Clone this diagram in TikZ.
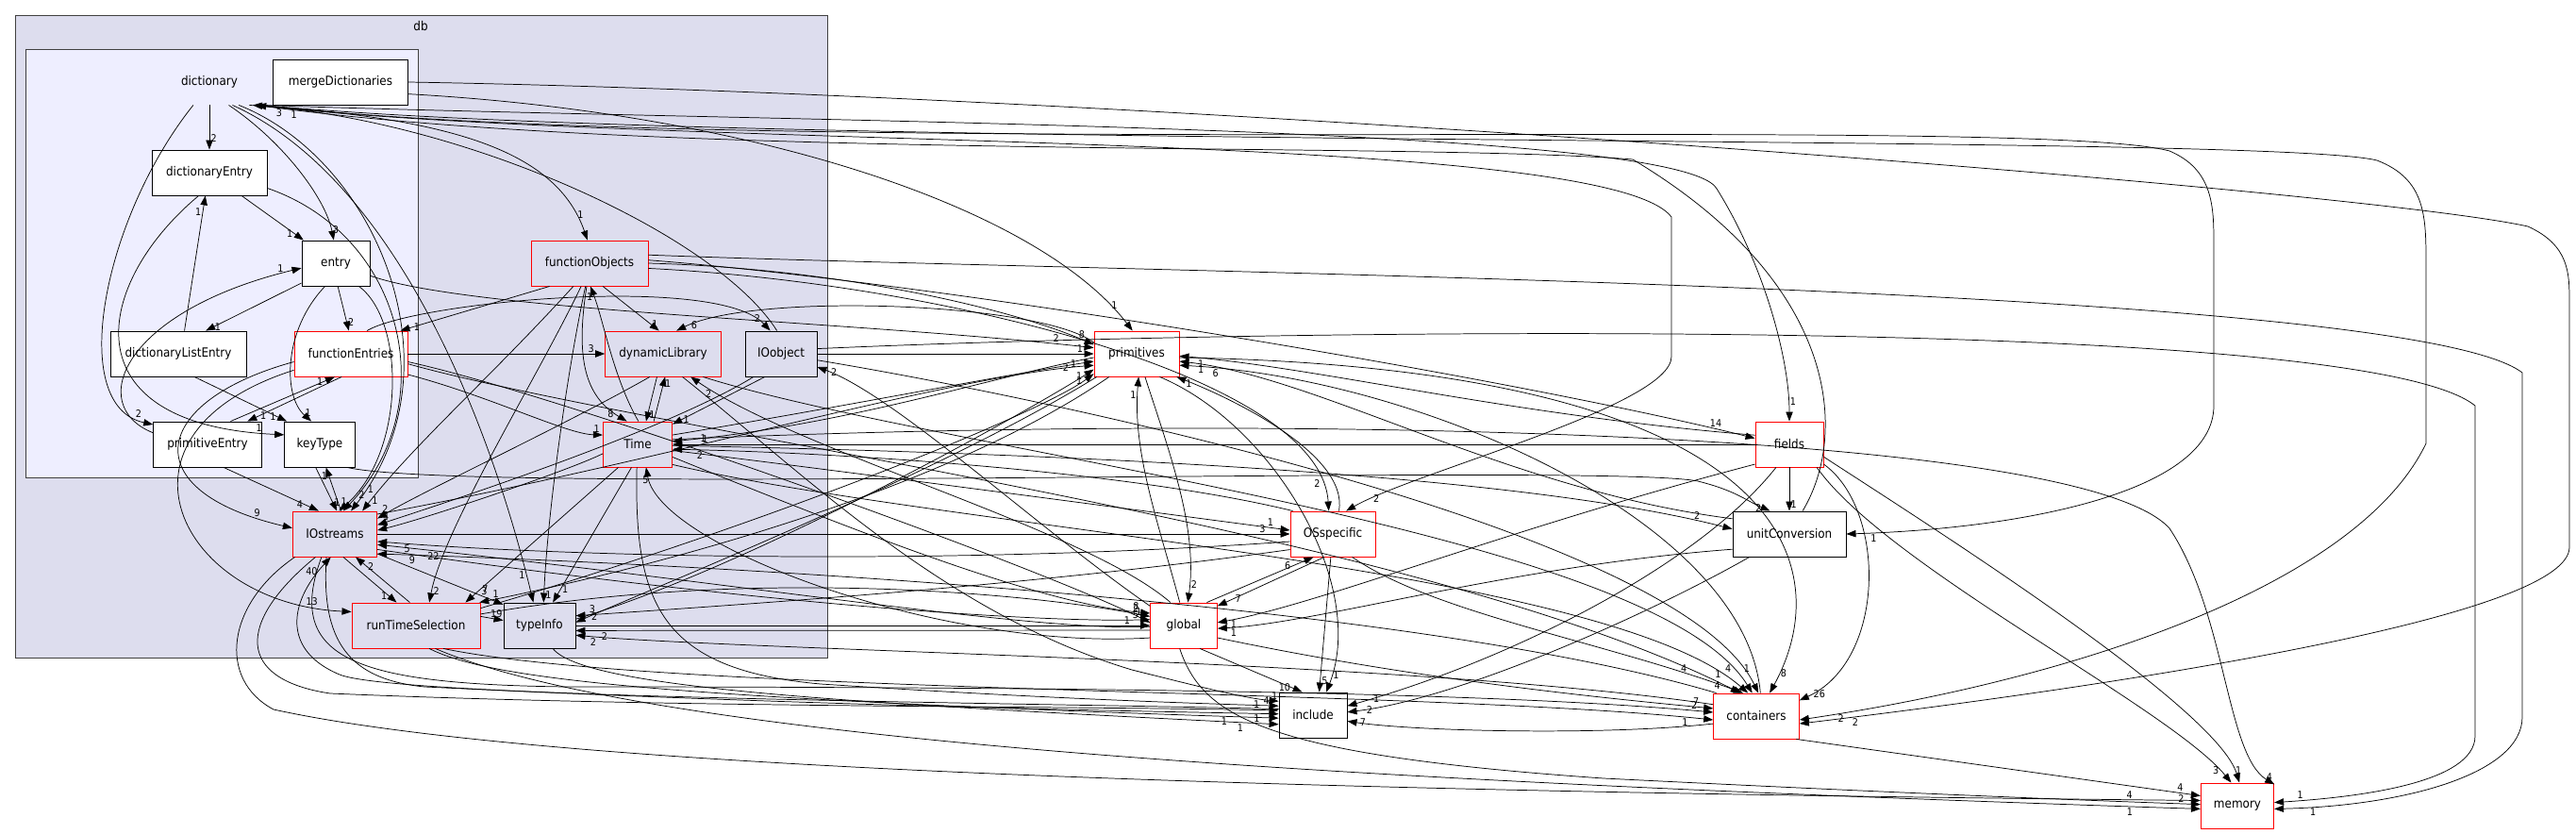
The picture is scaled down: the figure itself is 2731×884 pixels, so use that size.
\documentclass[tikz,border=0pt]{standalone}
\usepackage{fontspec}
\setmainfont{DejaVu Sans}[FakeStretch=0.9]
\usetikzlibrary{arrows.meta}
\definecolor{dbfill}{HTML}{DDDDEE}
\definecolor{dictfill}{HTML}{EEEEFF}
\definecolor{frame}{HTML}{404040}
\begin{document}
\begin{tikzpicture}[x=0.75pt,y=-0.75pt]
\tikzstyle{dirnode} = [draw=black, fill=white, line width=0.7pt, minimum height=36pt, inner sep=1pt, font=\fontsize{10}{12}\selectfont]
\tikzstyle{subdirs} = [dirnode, draw=red]
\tikzstyle{dep} = [draw=black, line width=0.55pt, -{Triangle[length=7.5pt,width=5.5pt]}]
\tikzstyle{lbl} = [font=\fontsize{8}{8}\selectfont, inner sep=1pt]
\useasboundingbox (0,0) rectangle (2731,884);
\fill[white] (0,0) rectangle (2731,884);
\draw[frame, fill=dbfill, line width=0.7pt] (16,16) rectangle (877,697);
\node[font=\fontsize{10}{12}\selectfont] (dblabel) at (446,28) {db};
\draw[frame, fill=dictfill, line width=0.7pt] (27,52) rectangle (443,506);
\node[dirnode, draw=none, fill=none, minimum width=91.5pt] (dictionary) at (222,87) {dictionary};
\node[dirnode, minimum width=107pt] (mergeDict) at (361,87) {mergeDictionaries};
\node[dirnode, minimum width=91.5pt] (dictEntry) at (222,183) {dictionaryEntry};
\node[dirnode, minimum width=54pt] (entry) at (356,279) {entry};
\node[dirnode, minimum width=108pt] (dictListEntry) at (189,375) {dictionaryListEntry};
\node[subdirs, minimum width=90pt] (funcEntries) at (372,375) {functionEntries};
\node[dirnode, minimum width=86pt] (primEntry) at (220,471) {primitiveEntry};
\node[dirnode, minimum width=56pt] (keyType) at (339,471) {keyType};
\node[subdirs, fill=dbfill, minimum width=93pt] (funcObjects) at (625,279) {functionObjects};
\node[subdirs, fill=dbfill, minimum width=92pt] (dynLib) at (703,375) {dynamicLibrary};
\node[dirnode, fill=dbfill, minimum width=57pt] (IOobject) at (828,375) {IOobject};
\node[subdirs, fill=dbfill, minimum width=55pt] (Time) at (676,471) {Time};
\node[subdirs, fill=dbfill, minimum width=67pt] (IOstreams) at (355,566) {IOstreams};
\node[subdirs, fill=dbfill, minimum width=102pt] (rtSelection) at (441,663) {runTimeSelection};
\node[dirnode, fill=dbfill, minimum width=57pt] (typeInfo) at (572,663) {typeInfo};
\node[subdirs, minimum width=67.5pt] (primitives) at (1205,375) {primitives};
\node[subdirs, minimum width=53pt] (global) at (1255,663) {global};
\node[subdirs, minimum width=67.5pt] (OSspecific) at (1413,566) {OSspecific};
\node[dirnode, minimum width=54pt] (include) at (1392,758) {include};
\node[subdirs, minimum width=54pt] (fields) at (1897,471) {fields};
\node[dirnode, minimum width=90pt] (unitConv) at (1897,566) {unitConversion};
\node[subdirs, minimum width=68pt] (containers) at (1862,759) {containers};
\node[subdirs, minimum width=58pt] (memory) at (2372,854) {memory};
\draw[dep] (dictionary) -- node[lbl,pos=.75,right]{2} (dictEntry);
\draw[dep] (dictionary.-50) .. controls (300,150) and (345,210) .. node[lbl,pos=.92,right]{3} (entry.95);
\draw[dep] (dictionary.-125) .. controls (110,230) and (70,430) .. node[lbl,pos=.94,above]{2} (primEntry.160);
\draw[dep] (dictEntry) -- node[lbl,pos=.85,left]{1} (entry);
\draw[dep] (dictListEntry.75) -- node[lbl,pos=.88,left]{1} (dictEntry.-100);
\draw[dep] (entry.-150) -- node[lbl,pos=.92,right]{1} (dictListEntry.40);
\draw[dep] (entry.-85) -- node[lbl,pos=.8,right]{2} (funcEntries.95);
\draw[dep] (entry.-115) .. controls (300,350) and (300,420) .. node[lbl,pos=.9,right]{1} (keyType.110);
\draw[dep] (dictEntry.-115) .. controls (100,300) and (70,450) .. node[lbl,pos=.96,above]{1} (keyType.165);
\draw[dep] (dictListEntry.-55) -- node[lbl,pos=.9,left]{1} (keyType.145);
\draw[dep] (primEntry.45) -- node[lbl,pos=.9,left]{1} (funcEntries.-125);
\draw[dep] (funcEntries.-112) -- node[lbl,pos=.88,right]{1} (primEntry.30);
\draw[dep] (primEntry.168) .. controls (90,430) and (130,330) .. node[lbl,pos=.96,above]{1} (entry.188);
\draw[dep] (dictEntry.-15) .. controls (430,250) and (470,430) .. node[lbl,pos=.95,right]{2} (IOstreams.70);
\draw[dep] (dictionary.-38) .. controls (400,170) and (490,390) .. node[lbl,pos=.95,right]{1} (IOstreams.55);
\draw[dep] (entry.-45) .. controls (430,340) and (430,480) .. node[lbl,pos=.95,left]{1} (IOstreams.80);
\draw[dep] (dictionary.-45) .. controls (420,190) and (520,450) .. node[lbl,pos=.95,left]{1} (typeInfo.105);
\draw[dep] (dictionary.-30) .. controls (480,125) and (590,160) .. node[lbl,pos=.9,right]{1} (funcObjects.95);
\draw[dep] (IOobject.100) .. controls (760,250) and (500,130) .. node[lbl,pos=.96,below]{3} (dictionary.-28);
\draw[dep] (funcEntries.188) .. controls (160,425) and (140,520) .. node[lbl,pos=.92,above]{9} (IOstreams.172);
\draw[dep] (funcEntries.196) .. controls (100,460) and (190,640) .. node[lbl,pos=.92,above]{13} (rtSelection.168);
\draw[dep] (primEntry.-55) -- node[lbl,pos=.85,left]{4} (IOstreams.125);
\draw[dep] (keyType.-100) -- node[lbl,pos=.8,right]{1} (IOstreams.85);
\draw[dep] (IOstreams.75) -- node[lbl,pos=.8,left]{1} (keyType.-75);
\draw[dep] (funcObjects.-150) -- node[lbl,pos=.92,right]{1} (funcEntries.25);
\draw[dep] (funcEntries) -- node[lbl,pos=.93,above]{3} (dynLib);
\draw[dep] (funcObjects.-60) -- node[lbl,pos=.85,right]{1} (dynLib.100);
\draw[dep] (funcObjects.-97) .. controls (610,380) and (620,420) .. node[lbl,pos=.9,left]{8} (Time.115);
\draw[dep] (Time.88) .. controls (650,400) and (640,340) .. node[lbl,pos=.9,left]{1} (funcObjects.-88);
\draw[dep] (funcObjects.-100) .. controls (600,400) and (580,550) .. node[lbl,pos=.97,right]{1} (typeInfo.80);
\draw[dep] (funcObjects.-110) .. controls (570,400) and (470,560) .. node[lbl,pos=.95,right]{2} (rtSelection.60);
\draw[dep] (funcObjects.-125) .. controls (520,400) and (440,470) .. node[lbl,pos=.95,right]{1} (IOstreams.40);
\draw[dep] (dynLib.-105) -- node[lbl,pos=.85,right]{1} (Time.70);
\draw[dep] (Time.55) -- node[lbl,pos=.85,right]{1} (dynLib.-85);
\draw[dep] (IOobject.-125) -- node[lbl,pos=.9,right]{1} (Time.30);
\draw[dep] (funcEntries.55) .. controls (440,320) and (760,290) .. node[lbl,pos=.92,right]{2} (IOobject.115);
\draw[dep] (primitives.165) .. controls (1100,320) and (800,310) .. node[lbl,pos=.95,right]{6} (dynLib.60);
\draw[dep] (entry.-20) .. controls (500,330) and (900,340) .. node[lbl,pos=.95,above]{2} (primitives.172);
\draw[dep] (dynLib.-120) .. controls (600,450) and (450,520) .. node[lbl,pos=.95,above]{2} (IOstreams.20);
\draw[dep] (Time.-165) .. controls (600,500) and (450,550) .. node[lbl,pos=.95,above]{6} (IOstreams.5);
\draw[dep] (IOobject.-140) .. controls (700,460) and (450,540) .. node[lbl,pos=.95,above]{4} (IOstreams.12);
\draw[dep] (Time.-130) -- node[lbl,pos=.9,right]{7} (rtSelection.25);
\draw[dep] (Time.-105) -- node[lbl,pos=.9,right]{1} (typeInfo.60);
\draw[dep] (IOstreams.-70) -- node[lbl,pos=.85,left]{1} (rtSelection.130);
\draw[dep] (rtSelection.105) -- node[lbl,pos=.8,right]{2} (IOstreams.-48);
\draw[dep] (IOstreams.-25) -- node[lbl,pos=.85,above]{3} (typeInfo.150);
\draw[dep] (rtSelection.8) -- node[lbl,pos=.7,above]{19} (typeInfo.172);
\draw[dep] (funcEntries.-20) .. controls (520,420) and (600,460) .. node[lbl,pos=.95,above]{1} (Time.165);
\draw[dep] (funcObjects.east) .. controls (900,285) and (1080,330) .. node[lbl,pos=.95,above]{8} (primitives.168);
\draw[dep] (IOobject.east) -- node[lbl,pos=.95,above]{1} (primitives.west);
\draw[dep] (Time.15) .. controls (900,430) and (1050,400) .. node[lbl,pos=.95,left]{1} (primitives.-170);
\draw[dep] (IOstreams.25) .. controls (700,490) and (1000,400) .. node[lbl,pos=.95,left]{2} (primitives.-165);
\draw[dep] (typeInfo.10) .. controls (800,600) and (1100,430) .. node[lbl,pos=.95,left]{1} (primitives.-160);
\draw[dep] (rtSelection.15) .. controls (800,560) and (1100,440) .. node[lbl,pos=.95,left]{1} (primitives.-155);
\draw[dep] (global.100) .. controls (1230,560) and (1200,480) .. node[lbl,pos=.92,left]{1} (primitives.-85);
\draw[dep] (primitives.-70) .. controls (1240,480) and (1270,560) .. node[lbl,pos=.92,right]{2} (global.80);
\draw[dep] (primitives.-175) .. controls (1050,400) and (900,450) .. node[lbl,pos=.95,right]{1} (Time.5);
\draw[dep] (primitives.-150) .. controls (1000,500) and (700,620) .. node[lbl,pos=.95,right]{2} (typeInfo.5);
\draw[dep] (primitives.-140) .. controls (1000,520) and (700,600) .. node[lbl,pos=.97,above]{1} (rtSelection.20);
\draw[dep] (IOstreams) -- node[lbl,pos=.97,above]{3} (OSspecific);
\draw[dep] (Time.-10) .. controls (900,500) and (1200,540) .. node[lbl,pos=.96,above]{1} (OSspecific.175);
\draw[dep] (global.45) -- node[lbl,pos=.8,left]{6} (OSspecific.-130);
\draw[dep] (OSspecific.-110) -- node[lbl,pos=.85,right]{7} (global.30);
\draw[dep] (OSspecific.-95) -- node[lbl,pos=.92,right]{5} (include.75);
\draw[dep] (OSspecific.-50) .. controls (1520,650) and (1700,680) .. node[lbl,pos=.95,left]{4} (containers.120);
\draw[dep] (OSspecific.75) .. controls (1430,480) and (1300,420) .. node[lbl,pos=.9,left]{1} (primitives.-30);
\draw[dep] (OSspecific.-170) .. controls (1000,600) and (600,590) .. node[lbl,pos=.95,below]{5} (IOstreams.-10);
\draw[dep] (OSspecific.150) .. controls (1200,500) and (900,480) .. node[lbl,pos=.95,below]{2} (Time.-8);
\draw[dep] (funcObjects.-5) .. controls (1000,300) and (1400,400) .. node[lbl,pos=.93,left]{2} (OSspecific.100);
\draw[dep] (dictionary.-27) .. controls (700,160) and (1700,135) .. (1772,230) -- (1772,378) .. controls (1772,430) and (1500,500) .. node[lbl,pos=.9,right]{2} (OSspecific.60);
\draw[dep] (IOstreams.-20) .. controls (800,640) and (1100,660) .. node[lbl,pos=.96,above]{5} (global.170);
\draw[dep] (global.-178) .. controls (1100,670) and (800,620) .. node[lbl,pos=.95,below]{22} (IOstreams.-14);
\draw[dep] (Time.-20) .. controls (900,560) and (1100,640) .. node[lbl,pos=.96,above]{8} (global.160);
\draw[dep] (typeInfo.east) -- node[lbl,pos=.96,above]{1} (global.west);
\draw[dep] (global.-172) -- node[lbl,pos=.95,below]{2} (typeInfo.-8);
\draw[dep] (rtSelection.10) .. controls (800,600) and (1100,630) .. node[lbl,pos=.96,above]{2} (global.165);
\draw[dep] (global.-160) .. controls (1000,690) and (700,580) .. node[lbl,pos=.95,left]{5} (Time.-70);
\draw[dep] (global.-55) -- node[lbl,pos=.9,left]{10} (include.115);
\draw[dep] (global.-100) .. controls (1275,760) and (1340,800) .. (1700,825) .. controls (2000,840) and (2200,848) .. node[lbl,pos=.95,above]{2} (memory.178);
\draw[dep] (global.-20) .. controls (1500,720) and (1700,740) .. node[lbl,pos=.95,above]{7} (containers.170);
\draw[dep] (global.120) .. controls (1150,560) and (850,480) .. node[lbl,pos=.95,below]{2} (dynLib.-40);
\draw[dep] (global.150) .. controls (1100,560) and (950,420) .. node[lbl,pos=.95,right]{2} (IOobject.-20);
\draw[dep] (fields.-150) .. controls (1600,560) and (1400,640) .. node[lbl,pos=.95,below]{1} (global.5);
\draw[dep] (unitConv.-165) .. controls (1600,600) and (1400,660) .. node[lbl,pos=.95,below]{1} (global.-5);
\draw[dep] (funcEntries.-8) .. controls (600,420) and (1100,600) .. node[lbl,pos=.97,above]{1} (global.175);
\draw[dep] (IOstreams.-130) .. controls (250,660) and (250,720) .. (350,735) .. controls (700,750) and (1100,748) .. node[lbl,pos=.97,above]{1} (include.172);
\draw[dep] (IOstreams.-110) .. controls (340,680) and (370,720) .. (450,728) .. controls (800,745) and (1100,752) .. node[lbl,pos=.97,below]{1} (include.178);
\draw[dep] (rtSelection.-60) .. controls (520,720) and (700,740) .. node[lbl,pos=.97,below]{1} (include.-175);
\draw[dep] (Time.-92) .. controls (672,640) and (700,710) .. (870,725) .. controls (1100,740) and (1250,745) .. node[lbl,pos=.96,above]{4} (include.165);
\draw[dep] (dynLib.-50) .. controls (850,500) and (1000,650) .. (1200,710) .. controls (1280,730) and (1320,740) .. node[lbl,pos=.96,above]{1} (include.158);
\draw[dep] (typeInfo.-60) .. controls (620,730) and (900,745) .. node[lbl,pos=.97,below]{1} (include.-165);
\draw[dep] (fields.-120) .. controls (1800,600) and (1600,700) .. node[lbl,pos=.95,right]{1} (include.15);
\draw[dep] (unitConv.-150) .. controls (1750,650) and (1550,740) .. node[lbl,pos=.95,right]{2} (include.5);
\draw[dep] (containers.-170) .. controls (1700,780) and (1500,775) .. node[lbl,pos=.95,right]{7} (include.-10);
\draw[dep] (primitives.-45) .. controls (1350,450) and (1450,620) .. node[lbl,pos=.95,right]{1} (include.60);
\draw[dep] (include.170) .. controls (1100,745) and (420,740) .. (360,715) .. controls (300,690) and (305,640) .. node[lbl,pos=.9,left]{40} (IOstreams.-100);
\draw[dep] (funcEntries.-10) .. controls (700,460) and (1500,560) .. node[lbl,pos=.95,left]{4} (containers.125);
\draw[dep] (Time.-30) .. controls (1000,560) and (1700,600) .. node[lbl,pos=.95,left]{1} (containers.110);
\draw[dep] (dynLib.-30) .. controls (1000,480) and (1750,560) .. node[lbl,pos=.95,left]{4} (containers.100);
\draw[dep] (IOobject.-10) .. controls (1100,420) and (1780,560) .. node[lbl,pos=.95,right]{1} (containers.85);
\draw[dep] (IOstreams.-120) .. controls (300,700) and (380,725) .. (600,728) .. controls (1200,728) and (1600,735) .. node[lbl,pos=.97,above]{2} (containers.175);
\draw[dep] (rtSelection.-40) .. controls (700,735) and (1500,730) .. node[lbl,pos=.97,below]{1} (containers.-175);
\draw[dep] (primitives.-5) .. controls (1900,390) and (1950,600) .. node[lbl,pos=.95,right]{8} (containers.60);
\draw[dep] (fields.-30) .. controls (2000,540) and (2000,700) .. node[lbl,pos=.95,right]{26} (containers.20);
\draw[dep] (containers.-30) -- node[lbl,pos=.95,above]{4} (memory.165);
\draw[dep] (containers.165) .. controls (1500,700) and (800,690) .. node[lbl,pos=.97,below]{2} (typeInfo.-15);
\draw[dep] (OSspecific.-160) .. controls (1100,620) and (800,640) .. node[lbl,pos=.97,above]{3} (typeInfo.15);
\draw[dep] (containers.150) .. controls (1500,640) and (800,600) .. node[lbl,pos=.97,below]{9} (IOstreams.-25);
\draw[dep] (containers.80) .. controls (1850,550) and (1500,400) .. node[lbl,pos=.95,below]{6} (primitives.-15);
\draw[dep] (IOstreams.-150) .. controls (240,640) and (230,720) .. (290,752) .. controls (600,820) and (1500,840) .. node[lbl,pos=.97,above]{4} (memory.172);
\draw[dep] (rtSelection.-50) .. controls (700,790) and (1500,830) .. node[lbl,pos=.97,below]{1} (memory.-175);
\draw[dep] (fields.-40) .. controls (2000,600) and (2300,750) .. node[lbl,pos=.95,left]{3} (memory.105);
\draw[dep] (fields.-20) .. controls (2050,560) and (2350,750) .. node[lbl,pos=.95,right]{1} (memory.85);
\draw[dep] (funcObjects.8) .. controls (1200,290) and (2550,300) .. (2674,395) -- (2674,760) .. controls (2674,820) and (2550,854) .. node[lbl,pos=.9,below]{1} (memory.-5);
\draw[dep] (IOobject.8) .. controls (1300,350) and (2500,330) .. (2624,430) -- (2624,780) .. controls (2624,830) and (2500,845) .. node[lbl,pos=.9,above]{1} (memory.5);
\draw[dep] (Time.8) .. controls (1300,440) and (2200,450) .. (2300,560) .. controls (2360,650) and (2360,800) .. node[lbl,pos=.93,right]{4} (memory.30);
\draw[dep] (dictionary.-25) .. controls (800,170) and (2150,120) .. (2300,160) .. controls (2347,180) and (2347,220) .. (2347,260) -- (2347,430) .. controls (2347,520) and (2150,560) .. node[lbl,pos=.95,below]{1} (unitConv.east);
\draw[dep] (dictionary.-24) .. controls (800,160) and (2400,140) .. (2520,170) .. controls (2572,190) and (2572,230) .. (2572,280) -- (2572,470) .. controls (2500,620) and (2200,720) .. node[lbl,pos=.95,below]{2} (containers.-5);
\draw[dep] (mergeDict.east) .. controls (1200,100) and (2500,200) .. (2680,240) .. controls (2724,260) and (2724,290) .. (2724,320) -- (2724,580) .. controls (2724,650) and (2300,720) .. node[lbl,pos=.95,below]{2} (containers.-10);
\draw[dep] (mergeDict.-10) .. controls (800,120) and (1100,220) .. node[lbl,pos=.93,right]{1} (primitives.100);
\draw[dep] (dictionary.-23) .. controls (800,130) and (1780,130) .. (1820,200) .. controls (1870,280) and (1897,380) .. node[lbl,pos=.9,right]{1} (fields.north);
\draw[dep] (funcObjects.3) .. controls (1000,300) and (1600,400) .. node[lbl,pos=.95,above]{14} (fields.170);
\draw[dep] (fields) -- node[lbl,pos=.85,right]{1} (unitConv);
\draw[dep] (fields) -- node[lbl,pos=.97,above]{1} (Time);
\draw[dep] (Time.-2) .. controls (1100,480) and (1600,500) .. node[lbl,pos=.95,above]{2} (unitConv.175);
\draw[dep] (keyType.-40) .. controls (500,525) and (1700,490) .. (1800,510) .. controls (1840,520) and (1850,530) .. node[lbl,pos=.9,left]{2} (unitConv.130);
\draw[dep] (unitConv.60) .. controls (1960,460) and (1950,300) .. (1731,169) .. controls (1500,150) and (700,170) .. node[lbl,pos=.97,below]{1} (dictionary.-26);
\draw[dep] (fields.165) .. controls (1600,440) and (1400,390) .. node[lbl,pos=.95,below]{1} (primitives.-3);
\draw[dep] (unitConv.165) .. controls (1600,520) and (1400,400) .. node[lbl,pos=.95,below]{1} (primitives.-10);
\end{tikzpicture}
\end{document}
